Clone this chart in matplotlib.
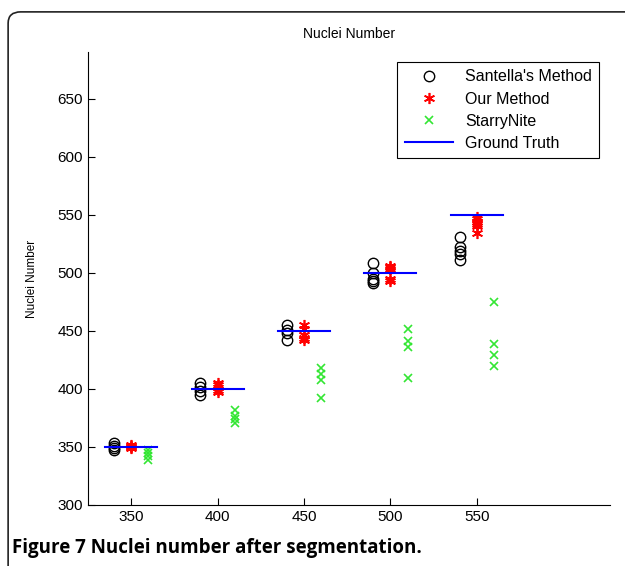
import matplotlib
matplotlib.use('Agg')
import matplotlib.pyplot as plt
from matplotlib.patches import FancyBboxPatch

# ground truth nuclei numbers (one group per time point)
truth = [350, 400, 450, 500, 550]

# values
santella = [
    [347, 349, 351, 353],
    [395, 398, 402, 405],
    [442, 448, 451, 455],
    [491, 493, 495, 500, 508],
    [511, 516, 519, 522, 531],
]
ours = [
    [349, 350, 351, 352],
    [397, 399, 403, 405],
    [442, 444, 446, 452, 455],
    [493, 495, 503, 505, 506],
    [534, 540, 542, 544, 546, 548],
]
starrynite = [
    [339, 342, 345, 347],
    [371, 374, 377, 382],
    [392, 408, 413, 418],
    [409, 436, 441, 452],
    [420, 429, 439, 475],
]
xticks = [350, 400, 450, 500, 550]
yticks = [300, 350, 400, 450, 500, 550, 600, 650]

plt.rcParams['font.family'] = ['Liberation Sans', 'DejaVu Sans']

fig = plt.figure(figsize=(6.25, 5.66), dpi=100)

# rounded frame around the figure panel
frame = FancyBboxPatch((0.013, -0.05), 1.05, 1.029, boxstyle='round,pad=0,rounding_size=0.02',
                       transform=fig.transFigure, fill=False, edgecolor='#222222', linewidth=1.2)
fig.patches.append(frame)

ax = fig.add_axes([0.1408, 0.1078, 0.835, 0.8])

for i, t in enumerate(truth):
    s = santella[i]
    o = ours[i]
    g = starrynite[i]
    ax.plot([t - 10] * len(s), s, linestyle='none', marker='o', markersize=7.5,
            markerfacecolor='none', markeredgecolor='black', markeredgewidth=1.0,
            label="Santella's Method" if i == 0 else None)
    ax.plot([t] * len(o), o, linestyle='none', marker=(6, 2, 0), markersize=8,
            color='red', markeredgewidth=1.2, label='Our Method' if i == 0 else None)
    ax.plot([t + 10] * len(g), g, linestyle='none', marker='x', markersize=5.5,
            color='#33e633', markeredgewidth=1.2, label='StarryNite' if i == 0 else None)
    ax.plot([t - 15, t + 15], [t, t], color='blue', linewidth=1.5,
            label='Ground Truth' if i == 0 else None)

ax.set_xlim(325, 627)
ax.set_ylim(300, 690)
ax.set_xticks(xticks)
ax.set_yticks(yticks)
ax.spines['top'].set_visible(False)
ax.spines['right'].set_visible(False)
ax.tick_params(direction='in', length=5, labelsize=11)
ax.set_title('Nuclei Number', fontsize=10, pad=10)
ax.set_ylabel('Nuclei Number', fontsize=8.5, labelpad=14)

leg = ax.legend(loc='upper right', bbox_to_anchor=(0.98, 0.978), fontsize=11.5,
                fancybox=False, edgecolor='black', framealpha=1, handlelength=3,
                borderaxespad=0, labelspacing=0.45, borderpad=0.45)
leg.get_frame().set_linewidth(0.8)

fig.text(0.02, 0.032, 'Figure 7 Nuclei number after segmentation.', fontsize=13.5,
         fontweight='bold', family=['Open Sans', 'DejaVu Sans'], va='center')

fig.savefig('out.png', dpi=100)
